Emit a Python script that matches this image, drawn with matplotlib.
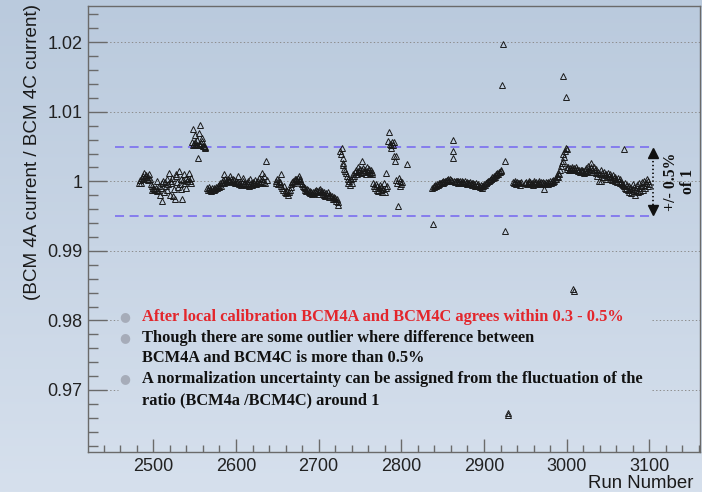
import numpy as np
import matplotlib
matplotlib.use("Agg")
import matplotlib.pyplot as plt
from matplotlib.ticker import MultipleLocator, FixedLocator

plt.rcParams["lines.scale_dashes"] = False

# (run number, BCM4A/BCM4C ratio) grouped by running period
period_a = [
    (2483, 0.9998), (2484, 1.0002), (2485, 0.9997), (2486, 1.0005), (2487, 1.0008),
    (2488, 1.0003), (2489, 1.0012), (2490, 1.0006), (2491, 1.0009), (2492, 1.0004),
    (2493, 1.0007), (2494, 1.0002), (2495, 1.0010), (2496, 1.0003), (2497, 0.9996),
    (2498, 0.9993), (2499, 0.9988), (2500, 0.9991), (2501, 0.9989), (2502, 0.9987),
    (2503, 0.9990), (2504, 1.0000), (2505, 0.9986), (2506, 0.9988), (2507, 0.9994),
    (2508, 0.9981), (2509, 0.9991), (2510, 0.9972), (2511, 0.9997), (2512, 1.0001),
    (2513, 0.9984), (2514, 0.9999), (2515, 0.9993), (2516, 0.9987), (2517, 1.0003),
    (2518, 0.9996), (2519, 1.0012), (2520, 0.9981), (2521, 1.0000), (2522, 0.9997),
    (2523, 1.0005), (2524, 0.9979), (2525, 0.9989), (2526, 0.9975), (2527, 1.0008),
    (2528, 1.0010), (2529, 0.9999), (2530, 0.9992), (2531, 1.0015), (2532, 0.9996),
    (2533, 1.0003), (2534, 0.9989), (2535, 0.9975), (2536, 1.0002), (2537, 1.0010),
    (2538, 0.9998), (2539, 1.0005), (2540, 0.9991), (2541, 1.0001), (2542, 1.0003),
    (2543, 1.0012), (2544, 1.0000), (2545, 0.9997), (2546, 1.0005),
]

period_b = [
    (2547, 1.0056), (2548, 1.0053), (2548, 1.0075), (2549, 1.0054), (2550, 1.0052),
    (2551, 1.0067), (2551, 1.0056), (2552, 1.0053), (2553, 1.0060), (2553, 1.0052),
    (2554, 1.0034), (2555, 1.0054), (2555, 1.0070), (2556, 1.0053), (2557, 1.0081),
    (2557, 1.0052), (2558, 1.0055), (2559, 1.0063), (2559, 1.0058), (2560, 1.0051),
    (2561, 1.0051), (2562, 1.0049), (2563, 1.0048),
]

period_c = [
    (2565, 0.9990), (2566, 0.9987), (2567, 0.9992), (2568, 0.9988), (2569, 0.9989),
    (2570, 0.9986), (2571, 0.9990), (2572, 0.9987), (2573, 0.9991), (2574, 0.9988),
    (2575, 0.9989), (2576, 0.9992), (2577, 0.9990), (2578, 0.9993), (2579, 0.9995),
    (2580, 0.9992), (2581, 0.9997), (2582, 0.9994), (2583, 0.9999), (2584, 1.0002),
    (2585, 1.0010), (2586, 0.9998), (2587, 1.0003), (2588, 1.0001), (2589, 0.9999),
    (2590, 1.0004), (2591, 1.0002), (2592, 1.0000), (2593, 1.0008), (2594, 1.0003),
    (2595, 1.0001), (2596, 0.9999), (2597, 1.0004), (2598, 1.0002), (2599, 0.9998),
    (2600, 1.0001), (2601, 0.9997), (2602, 0.9999), (2603, 1.0008), (2604, 0.9996),
    (2605, 0.9998), (2606, 0.9995), (2607, 0.9997), (2608, 1.0000), (2609, 1.0005),
    (2610, 0.9996), (2611, 0.9998), (2612, 0.9995), (2613, 0.9997), (2614, 1.0001),
    (2615, 0.9996), (2616, 0.9994), (2617, 1.0003), (2618, 0.9997), (2619, 0.9995),
    (2620, 0.9999), (2621, 0.9996), (2622, 0.9998), (2623, 1.0002), (2624, 0.9996),
    (2625, 0.9999), (2626, 0.9997), (2627, 1.0001), (2628, 1.0005), (2629, 0.9998),
    (2630, 1.0000), (2631, 1.0003), (2632, 1.0012), (2633, 0.9999), (2634, 1.0008),
    (2635, 0.9998), (2636, 1.0030), (2637, 1.0002),
]

period_d = [
    (2648, 1.0000), (2649, 0.9998), (2650, 1.0003), (2651, 0.9996), (2652, 1.0001),
    (2653, 0.9999), (2654, 1.0010), (2655, 0.9994), (2656, 0.9991), (2657, 0.9988),
    (2658, 0.9993), (2659, 0.9985), (2660, 0.9987), (2661, 0.9983), (2662, 0.9986),
    (2663, 0.9981), (2664, 0.9984), (2665, 0.9988), (2666, 0.9992), (2667, 0.9996),
    (2668, 0.9999), (2669, 1.0001), (2670, 0.9998), (2671, 1.0003), (2672, 1.0000),
    (2673, 1.0004), (2674, 1.0002), (2675, 1.0005), (2676, 1.0008), (2677, 1.0003),
    (2678, 1.0001), (2679, 0.9998), (2680, 0.9996), (2681, 0.9994), (2682, 0.9992),
    (2683, 0.9990), (2684, 0.9988), (2685, 0.9986), (2686, 0.9989), (2687, 0.9987),
    (2688, 0.9985), (2689, 0.9983), (2690, 0.9986), (2691, 0.9984), (2692, 0.9982),
    (2693, 0.9985), (2694, 0.9983), (2695, 0.9986), (2696, 0.9984), (2697, 0.9988),
    (2698, 0.9986), (2699, 0.9982), (2700, 0.9985), (2701, 0.9987), (2702, 0.9989),
    (2703, 0.9984), (2704, 0.9986), (2705, 0.9982), (2706, 0.9985), (2707, 0.9981),
    (2708, 0.9979), (2709, 0.9983), (2710, 0.9980), (2711, 0.9984), (2712, 0.9981),
    (2713, 0.9978), (2714, 0.9980), (2715, 0.9977), (2716, 0.9979), (2717, 0.9975),
    (2718, 0.9977), (2719, 0.9974), (2720, 0.9976), (2721, 0.9972), (2722, 0.9974),
    (2723, 0.9970), (2724, 0.9966),
]

period_e = [
    (2726, 1.0043), (2727, 1.0040), (2728, 1.0048), (2729, 1.0034), (2730, 1.0027),
    (2730, 1.0024), (2731, 1.0018), (2732, 1.0015), (2733, 1.0012), (2734, 1.0008),
    (2735, 1.0003), (2736, 0.9998), (2737, 1.0001), (2738, 0.9995), (2739, 1.0003),
    (2740, 0.9998), (2741, 1.0005), (2742, 1.0010), (2743, 1.0008), (2744, 1.0013),
    (2745, 1.0017), (2746, 1.0011), (2747, 1.0015), (2748, 1.0020), (2749, 1.0014),
    (2750, 1.0018), (2751, 1.0012), (2752, 1.0016), (2753, 1.0030), (2754, 1.0019),
    (2755, 1.0013), (2756, 1.0017), (2757, 1.0011), (2758, 1.0015), (2759, 1.0020),
    (2760, 1.0014), (2761, 1.0018), (2762, 1.0012), (2763, 1.0016), (2764, 1.0010),
    (2765, 1.0014), (2766, 0.9998), (2767, 0.9994), (2768, 0.9991), (2769, 0.9996),
    (2770, 0.9988), (2771, 0.9993), (2772, 0.9986), (2773, 0.9990), (2774, 0.9995),
    (2775, 0.9987), (2776, 0.9992), (2777, 0.9984), (2778, 0.9989), (2779, 0.9997),
    (2780, 0.9985), (2781, 1.0012), (2782, 0.9991), (2783, 0.9994), (2784, 1.0058),
    (2785, 1.0071), (2786, 1.0054), (2787, 1.0052), (2788, 1.0048), (2789, 1.0056),
    (2790, 1.0053), (2791, 1.0036), (2791, 1.0056), (2792, 1.0030), (2793, 1.0036),
    (2794, 1.0002), (2795, 0.9997), (2796, 0.9965), (2797, 1.0005), (2798, 0.9993),
    (2799, 1.0001), (2800, 0.9996), (2801, 0.9999), (2807, 1.0025),
]

period_f = [
    (2837, 0.9991), (2838, 0.9938), (2839, 0.9993), (2840, 0.9992), (2841, 0.9995),
    (2842, 0.9994), (2843, 0.9996), (2844, 0.9995), (2845, 0.9997), (2846, 0.9996),
    (2847, 0.9998), (2848, 0.9997), (2849, 0.9999), (2850, 0.9998), (2851, 1.0000),
    (2852, 0.9999), (2853, 1.0001), (2854, 1.0000), (2855, 1.0002), (2856, 1.0001),
    (2857, 1.0003), (2858, 1.0000), (2859, 1.0004), (2860, 1.0002), (2861, 1.0000),
    (2862, 1.0059), (2863, 1.0043), (2863, 1.0034), (2864, 1.0001), (2865, 0.9999),
    (2866, 1.0001), (2867, 1.0000), (2868, 0.9998), (2869, 1.0000), (2870, 0.9999),
    (2871, 1.0001), (2872, 0.9998), (2873, 1.0000), (2874, 0.9997), (2875, 0.9999),
    (2876, 0.9998), (2877, 1.0000), (2878, 0.9997), (2879, 0.9999), (2880, 0.9996),
    (2881, 0.9998), (2882, 0.9997), (2883, 0.9999), (2884, 0.9996), (2885, 0.9998),
    (2886, 0.9995), (2887, 0.9997), (2888, 0.9996), (2889, 0.9994), (2890, 0.9997),
    (2891, 0.9995), (2892, 0.9993), (2893, 0.9996), (2894, 0.9994), (2895, 0.9992),
    (2896, 0.9995), (2897, 0.9993), (2898, 0.9991), (2899, 0.9994), (2900, 0.9996),
    (2901, 0.9995), (2902, 0.9998), (2903, 0.9997), (2904, 0.9999), (2905, 1.0001),
    (2906, 1.0000), (2907, 1.0002), (2908, 1.0004), (2909, 1.0003), (2910, 1.0006),
    (2911, 1.0005), (2912, 1.0008), (2913, 1.0007), (2914, 1.0010), (2915, 1.0009),
    (2916, 1.0012), (2917, 1.0011), (2918, 1.0014), (2919, 1.0013), (2920, 1.0016),
    (2921, 1.0015), (2922, 1.0138), (2923, 1.0198), (2925, 1.0030), (2926, 0.9929),
    (2929, 0.9667), (2929, 0.9664),
]

period_g = [
    (2935, 0.9999), (2936, 0.9997), (2937, 1.0000), (2938, 0.9998), (2939, 0.9996),
    (2940, 0.9999), (2941, 0.9997), (2942, 0.9998), (2943, 0.9995), (2944, 0.9997),
    (2945, 0.9999), (2950, 0.9997), (2951, 0.9999), (2952, 0.9996), (2953, 0.9998),
    (2954, 1.0000), (2955, 0.9997), (2956, 0.9999), (2957, 0.9996), (2958, 0.9998),
    (2959, 0.9995), (2960, 0.9998), (2961, 1.0000), (2962, 0.9997), (2963, 0.9999),
    (2964, 0.9996), (2965, 0.9998), (2966, 1.0001), (2967, 0.9998), (2968, 0.9996),
    (2969, 0.9999), (2970, 0.9997), (2971, 0.9999), (2972, 0.9989), (2973, 0.9998),
    (2974, 0.9996), (2975, 0.9999), (2976, 0.9997), (2977, 0.9999), (2978, 0.9996),
    (2979, 0.9998), (2980, 1.0000), (2981, 0.9997), (2982, 1.0001), (2983, 0.9999),
    (2984, 1.0002), (2985, 1.0000), (2986, 1.0004), (2987, 1.0003), (2988, 1.0008),
    (2989, 1.0006), (2990, 1.0012), (2991, 1.0010), (2992, 1.0016), (2993, 1.0022),
    (2994, 1.0026), (2995, 1.0029), (2995, 1.0152), (2996, 1.0039), (2997, 1.0035),
    (2998, 1.0044), (2999, 1.0122), (2999, 1.0048), (3001, 1.0047), (3000, 1.0020),
    (3001, 1.0018), (3002, 1.0021), (3003, 1.0016), (3004, 1.0019), (3005, 1.0017),
    (3006, 1.0020), (3007, 1.0018), (3008, 1.0016), (3008, 0.9845), (3009, 0.9842),
    (3009, 1.0019), (3010, 1.0017), (3011, 1.0020), (3012, 1.0016), (3013, 1.0018),
    (3014, 1.0015), (3015, 1.0017), (3016, 1.0014), (3017, 1.0016), (3018, 1.0013),
    (3019, 1.0017), (3020, 1.0015), (3021, 1.0012), (3022, 1.0016), (3023, 1.0014),
    (3024, 1.0019), (3025, 1.0015), (3026, 1.0022), (3027, 1.0018), (3028, 1.0013),
    (3029, 1.0020), (3030, 1.0027), (3031, 1.0017), (3032, 1.0014), (3033, 1.0021),
    (3034, 1.0016), (3035, 1.0012), (3036, 1.0018), (3037, 1.0008), (3038, 1.0014),
    (3039, 1.0000), (3040, 1.0010), (3041, 1.0016), (3042, 1.0001), (3043, 1.0012),
    (3044, 1.0007), (3045, 1.0013), (3046, 1.0009), (3047, 1.0003), (3048, 1.0011),
    (3049, 1.0006), (3050, 1.0012), (3051, 1.0008), (3052, 1.0004), (3053, 1.0010),
    (3054, 1.0006), (3055, 1.0002), (3056, 1.0009), (3057, 1.0005), (3058, 1.0001),
    (3059, 1.0007), (3060, 1.0003), (3061, 0.9999), (3062, 1.0005), (3063, 1.0001),
    (3064, 0.9997), (3065, 1.0003), (3066, 0.9999), (3067, 0.9996), (3068, 0.9995),
    (3069, 1.0047), (3069, 0.9993), (3070, 0.9991), (3071, 0.9998), (3072, 0.9989),
    (3073, 0.9995), (3074, 0.9987), (3075, 0.9993), (3076, 0.9985), (3077, 0.9991),
    (3078, 0.9983), (3079, 0.9989), (3080, 0.9996), (3081, 0.9986), (3082, 0.9992),
    (3083, 0.9981), (3084, 0.9988), (3085, 0.9995), (3086, 0.9984), (3087, 0.9990),
    (3088, 0.9997), (3089, 0.9986), (3090, 0.9993), (3091, 0.9999), (3092, 0.9988),
    (3093, 0.9995), (3094, 1.0001), (3095, 0.9991), (3096, 0.9997), (3097, 1.0003),
    (3098, 0.9994), (3099, 1.0000), (3100, 0.9996),
]

periods = [period_a, period_b, period_c, period_d, period_e, period_f, period_g]

band_center = 1.0
band_halfwidth = 0.005
band_runs = (2454, 3103)

y_major = [0.97, 0.98, 0.99, 1.00, 1.01, 1.02]
y_labels = ["0.97", "0.98", "0.99", "1", "1.01", "1.02"]
x_major = [2500, 2600, 2700, 2800, 2900, 3000, 3100]
x_labels = ["2500", "2600", "2700", "2800", "2900", "3000", "3100"]

bullets = [
    ("After local calibration BCM4A and BCM4C agrees within 0.3 - 0.5%", "#e3262c", True),
    ("Though there are some outlier where difference between", "#111111", True),
    ("BCM4A and BCM4C is more than 0.5%", "#111111", False),
    ("A normalization uncertainty can be assigned from the fluctuation of the", "#111111", True),
    ("ratio (BCM4a /BCM4C) around 1", "#111111", False),
]

W, H = 702, 492
fig = plt.figure(figsize=(W / 100, H / 100), dpi=100)

# slide-style soft blue gradient behind everything
bg = fig.add_axes([0, 0, 1, 1], zorder=-10)
grad = np.linspace(0, 1, 256)[:, None]
top_c = np.array([186, 202, 221]) / 255
bot_c = np.array([214, 224, 237]) / 255
img = top_c[None, None, :] * (1 - grad[:, :, None]) + bot_c[None, None, :] * grad[:, :, None]
bg.imshow(img, aspect="auto", extent=[0, 1, 0, 1], origin="upper")
bg.set_axis_off()

ax = fig.add_axes([88 / W, 1 - 452 / H, (700 - 88) / W, (452 - 6) / H])
ax.set_facecolor("none")
ax.set_xlim(2421, 3161.3)
ax.set_ylim(0.96108, 1.02522)

spine_c = "#6a6a6a"
for s in ax.spines.values():
    s.set_color(spine_c)
    s.set_linewidth(1.0)

ax.xaxis.set_major_locator(FixedLocator(x_major))
ax.set_xticklabels(x_labels)
ax.xaxis.set_minor_locator(MultipleLocator(20))
ax.yaxis.set_major_locator(FixedLocator(y_major))
ax.set_yticklabels(y_labels)
ax.yaxis.set_minor_locator(MultipleLocator(0.002))
ax.tick_params(axis="both", which="both", direction="in", color=spine_c, width=1.0,
               labelcolor="#222222", labelsize=13, top=False, right=False)
ax.tick_params(axis="y", which="major", length=13.7, pad=4)
ax.tick_params(axis="y", which="minor", length=7.5)
ax.tick_params(axis="x", which="major", length=9.2, pad=4.5)
ax.tick_params(axis="x", which="minor", length=4.8)
for lab in ax.get_xticklabels() + ax.get_yticklabels():
    lab.set_fontfamily("Liberation Sans")

# dotted horizontal grid, interrupted where the note box sits
x0, x1 = ax.get_xlim()
box_runs = (2457, 3103)
for yv in y_major:
    kw = dict(color="#8c8c8c", linewidth=0.7, linestyle=(0, (1, 1.6)), zorder=1)
    if yv in (0.97, 0.98):
        ax.hlines(yv, x0, box_runs[0], **kw)
        ax.hlines(yv, box_runs[1], x1, **kw)
    else:
        ax.hlines(yv, x0, x1, **kw)

# +/- 0.5 % band
for yv in (band_center + band_halfwidth, band_center - band_halfwidth):
    ax.hlines(yv, band_runs[0], band_runs[1], color="#7b6ef0", linewidth=1.2,
              linestyle=(0, (6.5, 4.0)), zorder=2)

# measured ratios
for per in periods:
    runs = [p[0] for p in per]
    vals = [p[1] for p in per]
    ax.plot(runs, vals, linestyle="none", marker="^", markersize=5.0,
            markerfacecolor="none", markeredgecolor="#1a1a1a", markeredgewidth=0.7,
            zorder=3)

# double arrow marking the band width
arrow_x = 3105
arrow_top = band_center + band_halfwidth - 0.0004
arrow_bot = band_center - band_halfwidth + 0.0004
ax.plot([arrow_x, arrow_x], [arrow_bot + 0.0006, arrow_top - 0.0006], color="#111111",
        linewidth=1.3, linestyle=(0, (1, 1.8)), zorder=3, clip_on=False)
ax.plot([arrow_x], [arrow_top - 0.0005], marker="^", markersize=6.5, color="#111111",
        linestyle="none", clip_on=False, zorder=3)
ax.plot([arrow_x], [arrow_bot + 0.0005], marker="v", markersize=6.5, color="#111111",
        linestyle="none", clip_on=False, zorder=3)
ax.text(3126, band_center, "+/- 0.5%", rotation=90, ha="center", va="center",
        fontsize=11.3, fontweight="bold", family="Liberation Serif", color="#111111")
ax.text(3147, band_center, "of 1", rotation=90, ha="center", va="center",
        fontsize=11.3, fontweight="bold", family="Liberation Serif", color="#111111")

# axis titles
fig.text(33 / W, 1 - 4 / H, "(BCM 4A current / BCM 4C current)", rotation=90,
         ha="center", va="top", fontsize=13.6, family="Liberation Sans", color="#1a1a1a")
fig.text(693 / W, 1 - 483 / H, "Run Number", ha="right", va="center",
         fontsize=13.4, family="Liberation Sans", color="#1a1a1a")

# bullet notes
baselines = [320.7, 341.7, 362.3, 383.3, 404.0]
for (txt, col, has_dot), yb in zip(bullets, baselines):
    fig.text(142 / W, 1 - yb / H, txt, ha="left", va="baseline", fontsize=11.75,
             fontweight="bold", family="Liberation Serif", color=col)
    if has_dot:
        fig.text(125 / W, 1 - (yb - 4.5) / H, "\u25cf", ha="center", va="center",
                 fontsize=9, color="#a6acb9", family="DejaVu Sans")

fig.savefig("out.png", dpi=100)
